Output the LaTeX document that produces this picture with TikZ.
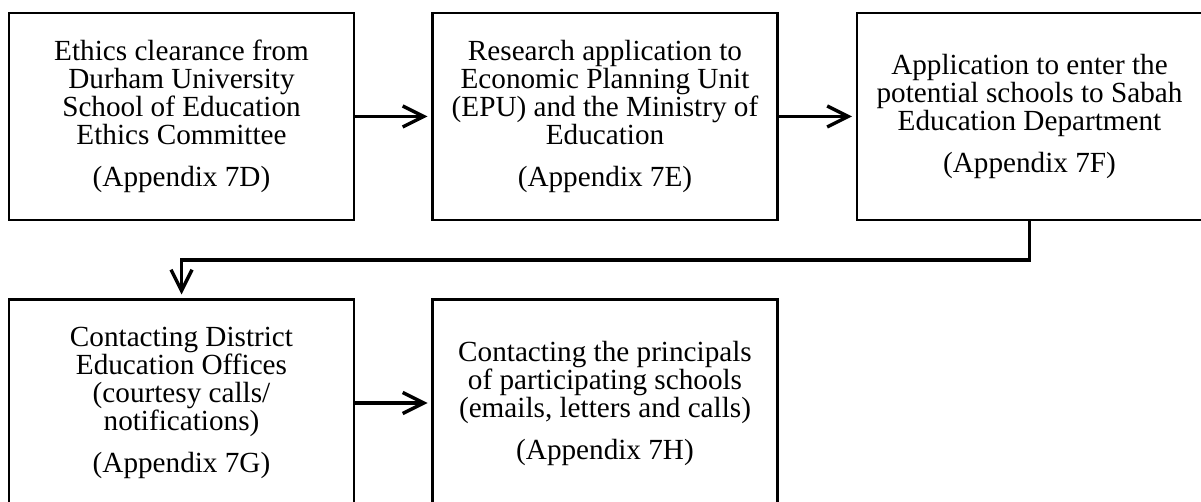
\documentclass[tikz,border=0pt]{standalone}
\usepackage{fontspec}
\setmainfont{Liberation Serif}
\usetikzlibrary{arrows.meta}
\begin{document}
\begin{tikzpicture}[x=0.5pt,y=-0.5pt,
  box/.style={draw, line width=1.2pt, minimum width=172.5pt, minimum height=103.5pt,
    inner sep=0pt, outer sep=0pt, align=center,
    font=\fontsize{14.6pt}{14pt}\selectfont},
  conn/.style={line width=1.7pt, -{Straight Barb[length=10.5pt,width=10.5pt]}, shorten >=2.5pt}]
\useasboundingbox (0,0) rectangle (1201,502);
\clip (0,0) rectangle (1201,502);
\node[box] (b1) at (181.5,116.5) {Ethics clearance from\\Durham University\\School of Education\\Ethics Committee\\[7pt](Appendix 7D)};
\node[box] (b2) at (605,116.5) {Research application to\\Economic Planning Unit\\(EPU) and the Ministry of\\Education\\[7pt](Appendix 7E)};
\node[box] (b3) at (1029.5,116.5) {Application to enter the\\potential schools to Sabah\\Education Department\\[7pt](Appendix 7F)};
\node[box] (b4) at (181.5,403) {Contacting District\\Education Offices\\(courtesy calls/\\notifications)\\[7pt](Appendix 7G)};
\node[box] (b5) at (605,403) {Contacting the principals\\of participating schools\\(emails, letters and calls)\\[7pt](Appendix 7H)};
\coordinate (turn) at (1029.5,260);
\draw[conn] (b1) -- (b2);
\draw[conn] (b2) -- (b3);
\draw[conn] (b3.south) -- (turn) -| (b4.north);
\draw[conn] (b4) -- (b5);
\end{tikzpicture}
\end{document}
